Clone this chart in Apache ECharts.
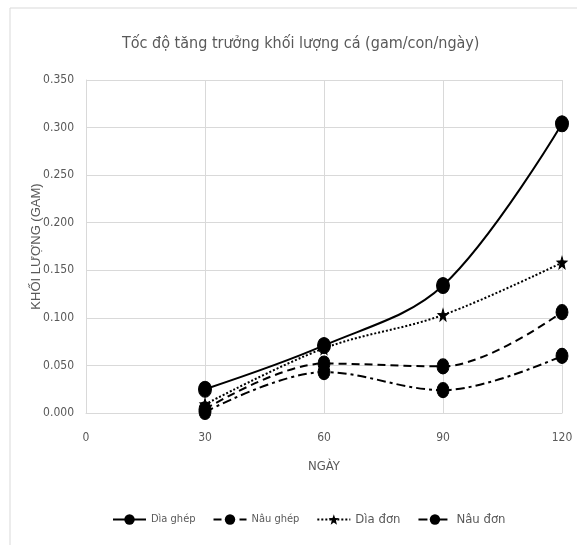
<!DOCTYPE html>
<html><head><meta charset="utf-8">
<script src="https://cdn.jsdelivr.net/npm/echarts@6/dist/echarts.min.js"></script>
<style>html,body{margin:0;padding:0;background:#fff}#c{width:577px;height:545px}</style>
</head><body><div id="c"></div>
<script>
var days = [30, 60, 90, 120];
var seriesNames = ['Dìa ghép', 'Nâu ghép', 'Dìa đơn', 'Nâu đơn'];
var diaGhep = [0.025, 0.071, 0.134, 0.304];
var nauGhep = [0.004, 0.052, 0.049, 0.106];
var diaDon = [0.009, 0.068, 0.103, 0.158];
var nauDon = [0.001, 0.043, 0.024, 0.060];
var xTicks = [0, 30, 60, 90, 120];
var yTicks = [0, 0.05, 0.1, 0.15, 0.2, 0.25, 0.3, 0.35];

var FONT = '"Liberation Sans Narrow", "DejaVu Sans Condensed", Roboto, sans-serif';
function pts(arr){ return days.map(function(d,i){ return [d, arr[i]]; }); }
var styles = [
  {type:'solid', sym:'circle', size:[13,16], w:2},
  {type:[8,5], sym:'circle', size:[12,15], w:2},
  {type:[2,2], sym:'path://M50 0 L62 35 L100 38 L70 60 L80 100 L50 78 L20 100 L30 60 L0 38 L38 35 Z', size:[10,12], w:2},
  {type:[9,4,3,4], sym:'circle', size:[12,15], w:2}
];
var datas = [diaGhep, nauGhep, diaDon, nauDon];
var series = seriesNames.map(function(n,i){
  var s = styles[i];
  return {
    name:n, type:'line', smooth:0.35, data:pts(datas[i]),
    symbol:s.sym, symbolSize:s.size,
    lineStyle:{color:'#000', width:s.w, type:s.type},
    itemStyle:{color:'#000', borderColor:'#000'}
  };
});
var chart = echarts.init(document.getElementById('c'), null, {renderer:'canvas'});
chart.setOption({
  animation:false,
  backgroundColor:'#fff',
  graphic:[{type:'rect', shape:{x:10, y:8, width:600, height:600}, style:{fill:'none', stroke:'#d9d9d9', lineWidth:1}, z:-10}],
  title:{text:'Tốc độ tăng trưởng khối lượng cá (gam/con/ngày)', left:117, top:31,
    textStyle:{color:'#595959', fontSize:16, fontWeight:'normal', fontFamily:FONT}},
  grid:{left:86, right:15, top:80, bottom:132},
  xAxis:{type:'value', min:0, max:120, interval:30,
    name:'NGÀY', nameLocation:'middle', nameGap:47,
    nameTextStyle:{color:'#595959', fontSize:13, fontFamily:FONT},
    axisLine:{show:true, lineStyle:{color:'#d9d9d9'}}, axisTick:{show:false},
    axisLabel:{color:'#595959', fontSize:12, fontFamily:FONT, margin:19},
    splitLine:{show:true, lineStyle:{color:'#d9d9d9', width:1}}},
  yAxis:{type:'value', min:0, max:0.35, interval:0.05,
    name:'KHỐI LƯỢNG (GAM)', nameLocation:'middle', nameGap:43, nameMoveOverlap:false,
    nameTextStyle:{color:'#595959', fontSize:13, fontFamily:'"Liberation Sans", Arial, sans-serif'},
    axisLine:{show:true, lineStyle:{color:'#d9d9d9'}}, axisTick:{show:false},
    axisLabel:{color:'#595959', fontSize:12, fontFamily:FONT, margin:12,
      formatter:function(v){ return v.toFixed(3); }},
    splitLine:{show:true, lineStyle:{color:'#d9d9d9', width:1}}},
  legend:{data:seriesNames, bottom:14, left:107, itemWidth:33, itemHeight:13, itemGap:17,
    textStyle:{color:'#595959', fontFamily:FONT, fontSize:11,
      rich:{s:{fontSize:11, fontFamily:FONT, color:'#595959'}, b:{fontSize:13, fontFamily:FONT, color:'#595959'}}},
    formatter:function(n){ return (n==='Dìa đơn'||n==='Nâu đơn') ? '{b|'+n+'}' : '{s|'+n+'}'; }},
  series:series
});
</script></body></html>
